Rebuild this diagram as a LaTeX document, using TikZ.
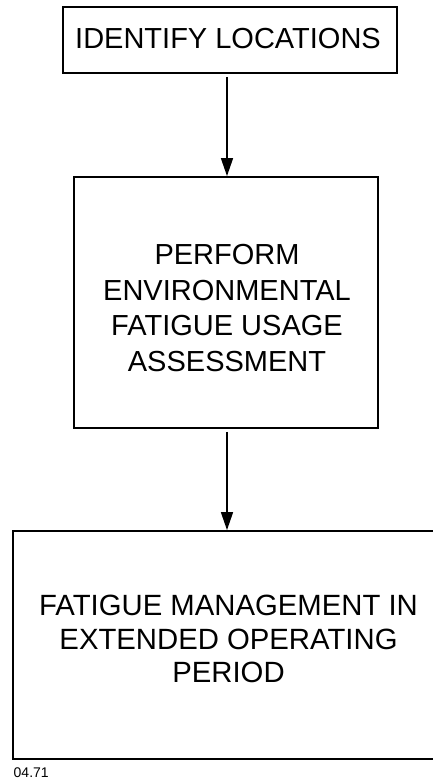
\documentclass[tikz,border=0pt]{standalone}
\usepackage{fontspec}
\setmainfont{Liberation Sans}
\usetikzlibrary{arrows.meta}
\begin{document}
\begin{tikzpicture}[x=1pt,y=-1pt,
  boxstyle/.style={draw,line width=1.8pt,inner sep=0pt,rectangle},
  bigtext/.style={font=\fontsize{29}{35.7}\selectfont,align=center,inner sep=0pt},
  flowarrow/.style={line width=1.5pt,-{Triangle[length=18pt,width=12pt]},shorten <=3pt}]
\useasboundingbox (0,0) rectangle (433,780);
\clip (0,0) rectangle (433,780);
% boxes
\node[boxstyle,minimum width=334pt,minimum height=66pt] (b1) at (230,40) {};
\node[boxstyle,minimum width=304pt,minimum height=251pt] (b2) at (226,302.5) {};
\node[boxstyle,minimum width=430pt,minimum height=228pt] (b3) at (228,645) {};
% texts
\node[bigtext] (t1) at (228,39) {IDENTIFY LOCATIONS};
\node[bigtext] (t2) at (227,308) {PERFORM\\ENVIRONMENTAL\\FATIGUE USAGE\\ASSESSMENT};
\node[bigtext,font=\fontsize{29.3}{33.8}\selectfont] (t3) at (228.5,639) {FATIGUE MANAGEMENT IN\\EXTENDED OPERATING\\PERIOD};
\node[font=\fontsize{14}{16}\selectfont,anchor=west,inner sep=0pt] (code) at (13.5,772.5) {04.71};
% arrows
\draw[flowarrow] ([xshift=-3pt]b1.south) -- ([xshift=1pt]b2.north);
\draw[flowarrow] ([xshift=1pt]b2.south) -- ([xshift=1pt]b2.south |- b3.north);
\end{tikzpicture}
\end{document}
